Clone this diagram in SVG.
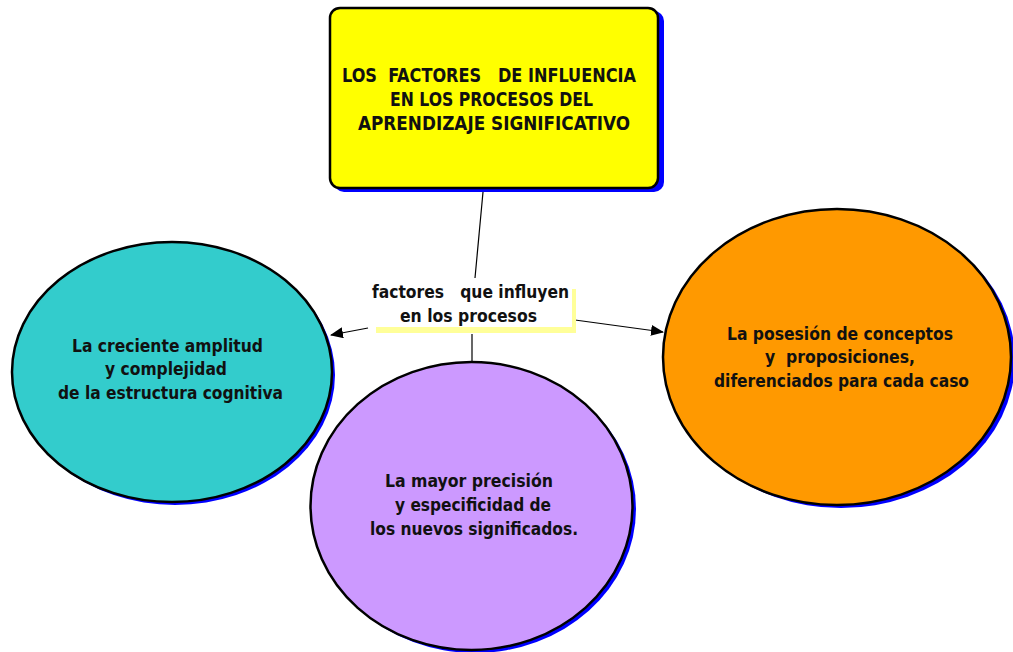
<svg xmlns="http://www.w3.org/2000/svg" width="1013" height="652" viewBox="0 0 1013 652">
<style>
.t{font-family:"DejaVu Sans Condensed","DejaVu Sans","Liberation Sans",sans-serif;font-weight:bold;fill:#111;font-size:18.5px;white-space:pre}
.ti{font-size:19px}
.shadow{fill:#0000ff}
.node{stroke:#000;stroke-width:2.5}
.conn{stroke:#000;stroke-width:1.2;fill:none}
</style>
<defs>
<marker id="arr" markerWidth="13" markerHeight="11" refX="12" refY="5.5" orient="auto" markerUnits="userSpaceOnUse">
<path d="M0,0 L13,5.5 L0,11 Z" fill="#000"/>
</marker>
</defs>
<rect width="1013" height="652" fill="#fff"/>
<g id="connectors">
<line class="conn" x1="483" y1="192" x2="475" y2="278"/>
<line class="conn" x1="368" y1="328" x2="331" y2="335" marker-end="url(#arr)"/>
<line class="conn" x1="575" y1="320" x2="663" y2="332" marker-end="url(#arr)"/>
<line class="conn" x1="472" y1="334" x2="472" y2="363"/>
</g>
<g id="title">
<rect class="shadow" x="334" y="11" width="330" height="181" rx="10"/>
<rect class="node" x="330" y="8" width="328" height="180" rx="10" fill="#ffff00" stroke-width="3"/>
<text class="t ti" x="342" y="82" textLength="294" lengthAdjust="spacingAndGlyphs" xml:space="preserve">LOS  FACTORES   DE INFLUENCIA</text>
<text class="t ti" x="390" y="106" textLength="203" lengthAdjust="spacingAndGlyphs">EN LOS PROCESOS DEL</text>
<text class="t ti" x="358" y="130" textLength="272" lengthAdjust="spacingAndGlyphs">APRENDIZAJE SIGNIFICATIVO</text>
</g>
<g id="label">
<rect x="376" y="289" width="200" height="44" fill="#ffff99"/>
<rect x="372" y="285" width="200" height="42" fill="#fff"/>
<text class="t" x="372" y="298" textLength="197" lengthAdjust="spacingAndGlyphs" xml:space="preserve">factores   que influyen</text>
<text class="t" x="400" y="322" textLength="137" lengthAdjust="spacingAndGlyphs">en los procesos</text>
</g>
<g id="teal">
<ellipse class="shadow" cx="175" cy="375" rx="160" ry="130"/>
<ellipse class="node" cx="172" cy="372" rx="160" ry="130" fill="#33cccc"/>
<text class="t" x="72" y="352" textLength="191" lengthAdjust="spacingAndGlyphs">La creciente amplitud</text>
<text class="t" x="105" y="375" textLength="122" lengthAdjust="spacingAndGlyphs">y complejidad</text>
<text class="t" x="58" y="399" textLength="225" lengthAdjust="spacingAndGlyphs">de la estructura cognitiva</text>
</g>
<g id="purple">
<ellipse class="shadow" cx="475" cy="509" rx="161" ry="144"/>
<ellipse class="node" cx="471.5" cy="506" rx="161" ry="144" fill="#cc99ff"/>
<text class="t" x="385" y="487" textLength="168" lengthAdjust="spacingAndGlyphs">La mayor precisión</text>
<text class="t" x="395" y="511" textLength="156" lengthAdjust="spacingAndGlyphs">y especificidad de</text>
<text class="t" x="370" y="535" textLength="208" lengthAdjust="spacingAndGlyphs">los nuevos significados.</text>
</g>
<g id="orange">
<ellipse class="shadow" cx="841" cy="360" rx="174" ry="148"/>
<ellipse class="node" cx="837" cy="357" rx="174" ry="148" fill="#ff9900"/>
<text class="t" x="727" y="340" textLength="226" lengthAdjust="spacingAndGlyphs">La posesión de conceptos</text>
<text class="t" x="765" y="363" textLength="150" lengthAdjust="spacingAndGlyphs" xml:space="preserve">y  proposiciones,</text>
<text class="t" x="714" y="387" textLength="255" lengthAdjust="spacingAndGlyphs">diferenciados para cada caso</text>
</g>
</svg>
